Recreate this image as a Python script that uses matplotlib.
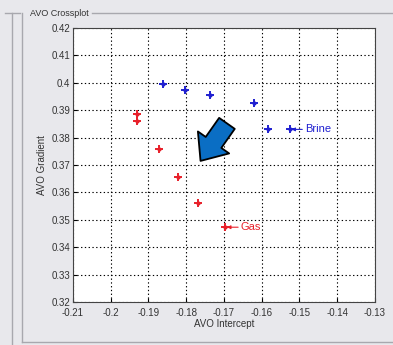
import matplotlib
matplotlib.use("Agg")
import matplotlib.pyplot as plt
from matplotlib.lines import Line2D

plt.rcParams["font.family"] = ["Liberation Sans", "DejaVu Sans"]

# AVO crossplot points
brine_intercept = [-0.1862, -0.1804, -0.1738, -0.1621, -0.1583, -0.1525]
brine_gradient = [0.3997, 0.3974, 0.3957, 0.3925, 0.3831, 0.3830]
gas_intercept = [-0.1930, -0.1930, -0.1871, -0.1821, -0.1768, -0.1696]
gas_gradient = [0.3885, 0.3860, 0.3758, 0.3655, 0.3563, 0.3473]

x_ticks = [-0.21, -0.2, -0.19, -0.18, -0.17, -0.16, -0.15, -0.14, -0.13]
y_ticks = [0.32, 0.33, 0.34, 0.35, 0.36, 0.37, 0.38, 0.39, 0.4, 0.41, 0.42]

BG = "#e8e8ec"
BLUE = "#2020d0"
RED = "#e8202a"

fig = plt.figure(figsize=(3.93, 3.45), dpi=100, facecolor=BG)
ax = fig.add_axes([0.1858, 0.1246, 0.768, 0.7942])
ax.set_facecolor("white")

# group box frame and window edge lines
for xs, ys in [((22, 22), (13, 342)), ((22, 393), (342, 342)), ((12, 12), (13, 345)),
               ((5, 20), (13, 13)), ((92, 393), (13, 13))]:
    fig.add_artist(Line2D([x / 393 for x in xs], [1 - y / 345 for y in ys],
                          color="#a8a8ae", lw=1.0))
fig.text(30 / 393, 1 - 13 / 345, "AVO Crossplot", fontsize=6.5, color="#333333",
         va="center", ha="left")

for xs, ys, c in [(brine_intercept, brine_gradient, BLUE), (gas_intercept, gas_gradient, RED)]:
    ax.plot(xs, ys, "+", color=c, ms=5.5, mew=1.4, zorder=4)
    ax.plot(xs, ys, ".", color=c, ms=4, zorder=4)

ax.annotate("Brine", xy=(brine_intercept[-1] + 0.0004, brine_gradient[-1]),
            xytext=(-0.1485, brine_gradient[-1]), color=BLUE, fontsize=8, va="center",
            arrowprops=dict(arrowstyle="-|>", color=BLUE, lw=0.8, mutation_scale=5,
                            shrinkA=0, shrinkB=0))
ax.annotate("Gas", xy=(gas_intercept[-1] + 0.0004, gas_gradient[-1]),
            xytext=(-0.1655, gas_gradient[-1]), color=RED, fontsize=8, va="center",
            arrowprops=dict(arrowstyle="-|>", color=RED, lw=0.8, mutation_scale=5,
                            shrinkA=0, shrinkB=0))

# big blue arrow
ax.annotate("", xy=(-0.1762, 0.3715), xytext=(-0.1692, 0.3852),
            arrowprops=dict(arrowstyle="simple,head_length=0.65,head_width=1.1,tail_width=0.55",
                            mutation_scale=25, fc="#0a6ec4", ec="black", lw=1.3,
                            shrinkA=0, shrinkB=0), zorder=5)

ax.set_xlim(-0.21, -0.13)
ax.set_ylim(0.32, 0.42)
ax.set_xticks(x_ticks)
ax.set_xticklabels([f"{v:g}" for v in x_ticks])
ax.set_yticks(y_ticks)
ax.set_yticklabels([f"{v:g}" for v in y_ticks])
ax.tick_params(direction="in", length=3, labelsize=7, labelcolor="#333333")
ax.tick_params(axis="x", pad=4)
ax.tick_params(axis="y", pad=2)
ax.grid(True, color="black", linestyle=(0, (1.2, 2.2)), lw=0.8)
for s in ax.spines.values():
    s.set_color("#444444")
    s.set_linewidth(0.8)

ax.set_xlabel("AVO Intercept", fontsize=7, color="#333333", labelpad=1)
ax.set_ylabel("AVO Gradient", fontsize=7, color="#333333", labelpad=3)

fig.savefig("out.png", dpi=100, facecolor=BG)
